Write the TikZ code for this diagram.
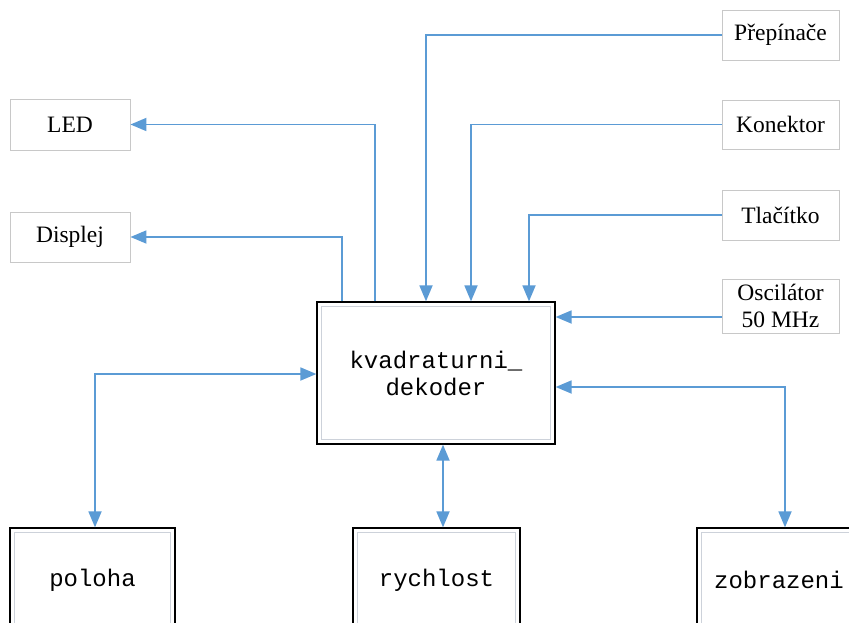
\documentclass[tikz,border=0pt]{standalone}
\usepackage{fontspec}
\setmainfont{Liberation Serif}
\newfontfamily\monofont{Liberation Mono}
\usetikzlibrary{arrows.meta}
\definecolor{lineblue}{RGB}{91,155,213}
\definecolor{boxgrey}{RGB}{200,200,200}
\definecolor{innergrey}{RGB}{205,210,218}
\tikzset{
  lbl/.style={draw=boxgrey, line width=0.9pt, fill=white, rectangle, inner sep=0pt,
    font=\fontsize{23.5}{27}\selectfont, align=center},
  blk/.style={draw=black, line width=1.3pt, fill=white, rectangle, inner sep=0pt,
    font=\monofont\fontsize{24}{27}\selectfont, align=center},
  innerframe/.style={draw=innergrey, line width=0.8pt},
  conn/.style={draw=lineblue, line width=1.8pt},
  arr/.style={conn, -{Triangle[length=16pt,width=13pt]}},
  darr/.style={conn, {Triangle[length=16pt,width=13pt]}-{Triangle[length=16pt,width=13pt]}},
}
\begin{document}
\begin{tikzpicture}[x=1pt,y=-1pt]
\useasboundingbox (0,0) rectangle (849,623);
\clip (0,0) rectangle (849,623);
\fill[white] (0,0) rectangle (849,623);

\node[lbl, minimum width=117pt, minimum height=50pt] (pre) at (780.5,35) {Přepínače};
\node[lbl, minimum width=117pt, minimum height=49pt] (kon) at (780.5,124.5) {Konektor};
\node[lbl, minimum width=117pt, minimum height=50pt] (tla) at (780.5,215) {Tlačítko};
\node[lbl, minimum width=117pt, minimum height=54pt] (osc) at (780.5,306) {Oscilátor\\50 MHz};
\node[lbl, minimum width=120pt, minimum height=51pt] (led) at (70,124.5) {LED};
\node[lbl, minimum width=120pt, minimum height=50pt] (dis) at (70,237) {Displej};

\node[blk, minimum width=238pt, minimum height=142pt] (dec) at (436,373) {kvadraturni\_\\dekoder};
\node[blk, minimum width=165pt, minimum height=104pt] (pol) at (92.5,580) {poloha};
\node[blk, minimum width=167pt, minimum height=104pt] (ryc) at (436.5,580) {rychlost};
\node[blk, minimum width=164pt, minimum height=104pt] (zob) at (779,580) {zobrazeni};

% inner light frames of the block boxes
\foreach \b in {dec,pol,ryc,zob}
  \draw[innerframe] ([xshift=5pt,yshift=-5pt]\b.north west) rectangle ([xshift=-5pt,yshift=5pt]\b.south east);

% inputs from the right-hand boxes
\draw[arr] (pre.west) -| ([xshift=-10pt]dec.north);
\draw[arr] (kon.west) -| ([xshift=35pt]dec.north);
\draw[arr] (tla.west) -| ([xshift=93pt]dec.north);
\draw[arr] ([yshift=-11pt]osc.west) -- ([yshift=-11pt]osc.west -| dec.east);

% outputs to LED and display
\draw[arr] ([xshift=-61pt]dec.north) |- (led.east);
\draw[arr] ([xshift=-94pt]dec.north) |- (dis.east);

% bidirectional links
\draw[darr] ([yshift=-1pt]dec.west) -| ([xshift=2.5pt]pol.north);
\draw[darr] ([xshift=7pt]dec.south) -- ([xshift=7pt]dec.south |- ryc.north);
\draw[darr] ([yshift=-14pt]dec.east) -| ([xshift=6pt]zob.north);
\end{tikzpicture}
\end{document}
